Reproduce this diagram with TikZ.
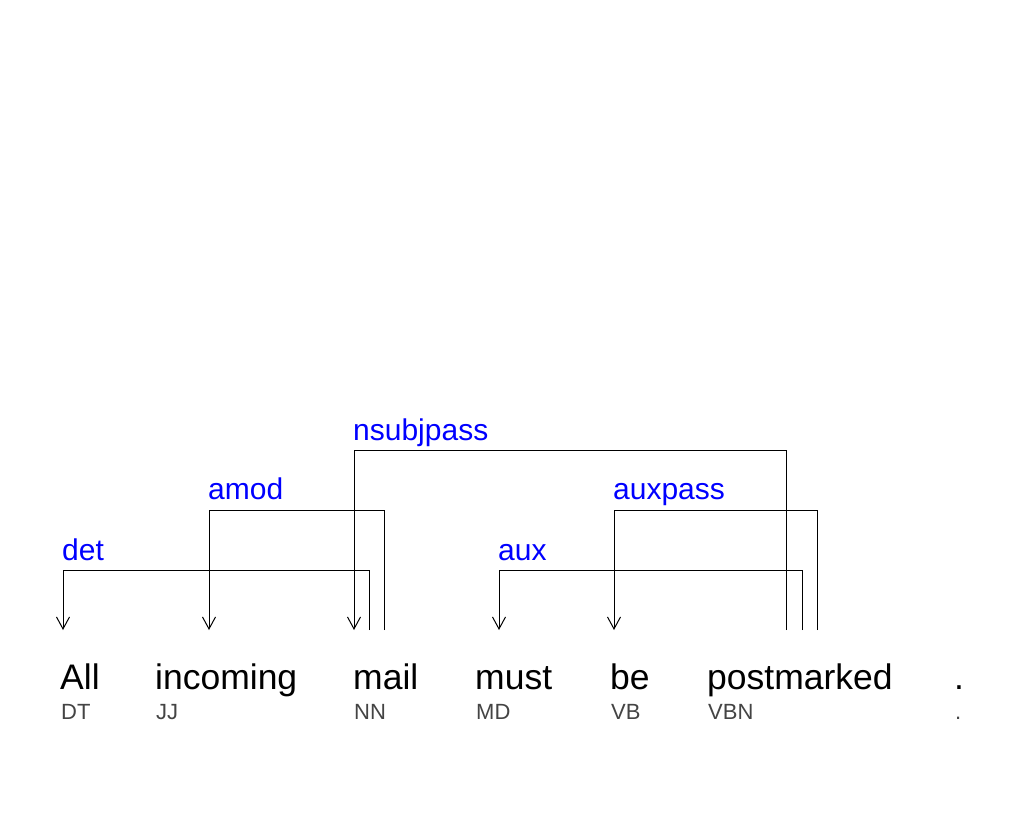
\documentclass[tikz,border=0pt]{standalone}
\usepackage{fontspec}
\setmainfont{Liberation Sans}
\usetikzlibrary{arrows.meta}
\definecolor{labc}{RGB}{0,0,255}
\definecolor{tagc}{RGB}{68,68,68}
\begin{document}
\begin{tikzpicture}[x=1pt,y=-1pt,
  word/.style={anchor=base west,inner sep=0pt,font=\fontsize{35.5}{42}\selectfont},
  tag/.style={anchor=base west,inner sep=0pt,text=tagc,font=\fontsize{22}{26}\selectfont},
  lab/.style={anchor=base west,inner sep=0pt,text=labc,font=\fontsize{30}{35}\selectfont},
  dep/.style={draw=black,line width=1pt,-{Straight Barb[length=12pt,width=13pt,line width=1pt]}}]
\fill[white] (0,0) rectangle (1018,840);
\useasboundingbox (0,0) rectangle (1018,840);
% words
\node[word] (w1) at (60,689) {All};
\node[word] (w2) at (155,689) {incoming};
\node[word] (w3) at (353,689) {mail};
\node[word] (w4) at (475,689) {must};
\node[word] (w5) at (610,689) {be};
\node[word] (w6) at (707,689) {postmarked};
\node[word] (w7) at (954,689) {.};
% tags
\node[tag] (t1) at (61,719) {DT};
\node[tag] (t2) at (156,719) {JJ};
\node[tag] (t3) at (354,719) {NN};
\node[tag] (t4) at (476,719) {MD};
\node[tag] (t5) at (611,719) {VB};
\node[tag] (t6) at (708,719) {VBN};
\node[tag] (t7) at (955,719) {.};
% attachment points
\coordinate (all-t) at (63,630);
\coordinate (inc-t) at (209,630);
\coordinate (mail-t) at (354,630);
\coordinate (mail-s1) at (369,630);
\coordinate (mail-s2) at (384,630);
\coordinate (must-t) at (499,630);
\coordinate (be-t) at (614,630);
\coordinate (pm-s1) at (786,630);
\coordinate (pm-s2) at (802,630);
\coordinate (pm-s3) at (817,630);
% arcs
\draw[dep] (mail-s1) -- ++(0,-60) -| (all-t);
\draw[dep] (mail-s2) -- ++(0,-120) -| (inc-t);
\draw[dep] (pm-s1) -- ++(0,-180) -| (mail-t);
\draw[dep] (pm-s2) -- ++(0,-60) -| (must-t);
\draw[dep] (pm-s3) -- ++(0,-120) -| (be-t);
% labels
\node[lab] (l1) at (62,560) {det};
\node[lab] (l2) at (208,499) {amod};
\node[lab] (l3) at (353,440) {nsubjpass};
\node[lab] (l4) at (498,560) {aux};
\node[lab] (l5) at (613,499) {auxpass};
\end{tikzpicture}
\end{document}
